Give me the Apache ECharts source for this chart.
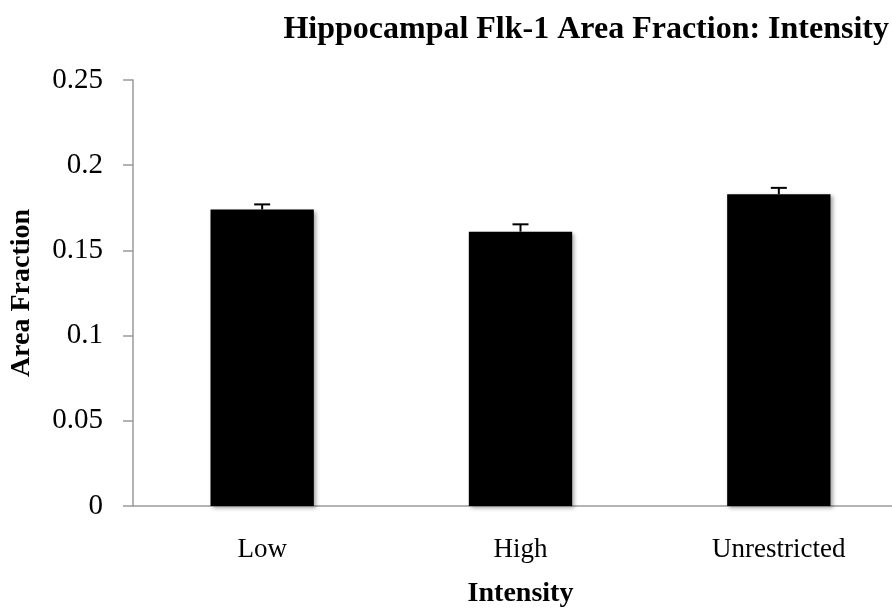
<!DOCTYPE html>
<html>
<head>
<meta charset="utf-8">
<script src="https://cdn.jsdelivr.net/npm/echarts@6/dist/echarts.min.js"></script>
<style>
  html, body { margin: 0; padding: 0; background: #fff; }
  #chart { width: 892px; height: 611px; }
</style>
</head>
<body>
<div id="chart"></div>
<script>
const categories = ['Low', 'High', 'Unrestricted']
const areaFraction = [0.174, 0.161, 0.183]
const errors = [0.003, 0.0043, 0.0037]
const yTicks = [0, 0.05, 0.1, 0.15, 0.2, 0.25]

const dom = echarts.init(document.getElementById('chart'))
const font = 'Liberation Serif, Times New Roman, serif'

const option = {
  animation: false,
  title: {
    text: 'Hippocampal Flk-1 Area Fraction: Intensity',
    right: -2,
    top: 9,
    textStyle: { fontFamily: font, fontSize: 32, fontWeight: 'bold', color: '#000' }
  },
  grid: {
    left: 133,
    top: 80,
    width: 775,
    height: 426,
    outerBoundsMode: 'none'
  },
  xAxis: {
    type: 'category',
    data: categories,
    name: 'Intensity',
    nameLocation: 'middle',
    nameGap: 74,
    nameTextStyle: { fontFamily: font, fontSize: 28, fontWeight: 'bold', color: '#000' },
    axisLine: { lineStyle: { color: '#9a9a9a', width: 1.5 } },
    axisTick: { show: false },
    axisLabel: { fontFamily: font, fontSize: 27, color: '#000', margin: 30 }
  },
  yAxis: {
    type: 'value',
    min: yTicks[0],
    max: yTicks[yTicks.length - 1],
    interval: 0.05,
    name: 'Area Fraction',
    nameLocation: 'middle',
    nameGap: 97,
    nameTextStyle: { fontFamily: font, fontSize: 28, fontWeight: 'bold', color: '#000' },
    axisLine: { show: true, lineStyle: { color: '#9a9a9a', width: 1.5 } },
    axisTick: { show: true, length: 10, lineStyle: { color: '#9a9a9a', width: 1.5 } },
    splitLine: { show: false },
    axisLabel: {
      fontFamily: font,
      fontSize: 29,
      color: '#000',
      margin: 30,
      formatter: v => String(+v.toFixed(2))
    }
  },
  series: [
    {
      type: 'bar',
      data: areaFraction,
      barCategoryGap: '60%',
      itemStyle: {
        color: '#000',
        shadowBlur: 4,
        shadowOffsetX: 2,
        shadowOffsetY: 2,
        shadowColor: 'rgba(0,0,0,0.35)'
      }
    },
    {
      type: 'custom',
      data: areaFraction.map((v, i) => [i, v, errors[i]]),
      z: 5,
      renderItem (params, api) {
        const i = api.value(0)
        const v = api.value(1)
        const e = api.value(2)
        const base = api.coord([i, v])
        const top = api.coord([i, v + e])
        const half = 8
        const style = { stroke: '#000', lineWidth: 2 }
        return {
          type: 'group',
          children: [
            { type: 'line', shape: { x1: base[0], y1: base[1], x2: top[0], y2: top[1] }, style },
            { type: 'line', shape: { x1: top[0] - half, y1: top[1], x2: top[0] + half, y2: top[1] }, style }
          ]
        }
      }
    }
  ]
}

dom.setOption(option)
window.addEventListener('resize', () => dom.resize())
</script>
</body>
</html>
